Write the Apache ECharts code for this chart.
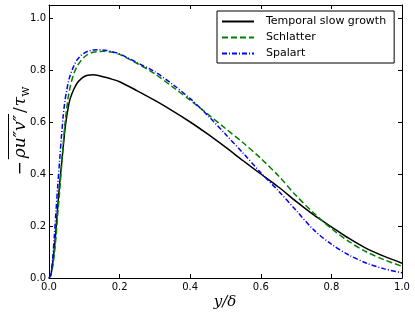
<!DOCTYPE html>
<html>
<head>
<meta charset="utf-8">
<script src="https://cdn.jsdelivr.net/npm/echarts@6/dist/echarts.min.js"></script>
<style>
html,body{margin:0;padding:0;background:#fff;}
#c{width:415px;height:317px;}
</style>
</head>
<body>
<div id="c"></div>
<script>
// ---- data ----
const seriesNames = ['Temporal slow growth', 'Schlatter', 'Spalart'];

const blackX = [0, 0.005, 0.01, 0.015, 0.02, 0.025, 0.03, 0.035, 0.04, 0.045, 0.05, 0.055, 0.06, 0.07, 0.08, 0.09, 0.1, 0.11, 0.125, 0.14, 0.16, 0.18, 0.2, 0.25, 0.3, 0.35, 0.4, 0.45, 0.5, 0.55, 0.6, 0.65, 0.7, 0.75, 0.8, 0.85, 0.9, 0.95, 1.0];
const blackY = [0, 0.01, 0.05, 0.11, 0.19, 0.28, 0.36, 0.43, 0.50, 0.57, 0.62, 0.66, 0.69, 0.725, 0.75, 0.765, 0.775, 0.78, 0.782, 0.779, 0.772, 0.764, 0.755, 0.72, 0.683, 0.643, 0.60, 0.553, 0.503, 0.451, 0.40, 0.35, 0.295, 0.243, 0.197, 0.152, 0.113, 0.083, 0.057];

const greenX = [0, 0.005, 0.01, 0.015, 0.02, 0.025, 0.03, 0.035, 0.04, 0.045, 0.05, 0.055, 0.06, 0.07, 0.08, 0.09, 0.1, 0.11, 0.125, 0.14, 0.155, 0.18, 0.2, 0.25, 0.3, 0.35, 0.4, 0.45, 0.5, 0.55, 0.6, 0.65, 0.7, 0.75, 0.8, 0.85, 0.9, 0.95, 1.0];
const greenY = [0, 0.01, 0.04, 0.09, 0.16, 0.25, 0.33, 0.42, 0.51, 0.59, 0.65, 0.70, 0.735, 0.785, 0.815, 0.835, 0.85, 0.86, 0.868, 0.871, 0.872, 0.868, 0.86, 0.825, 0.785, 0.735, 0.684, 0.63, 0.575, 0.52, 0.46, 0.393, 0.317, 0.25, 0.19, 0.14, 0.10, 0.07, 0.045];

const blueX = [0, 0.005, 0.01, 0.015, 0.02, 0.025, 0.03, 0.035, 0.04, 0.045, 0.05, 0.055, 0.06, 0.07, 0.08, 0.09, 0.1, 0.11, 0.125, 0.14, 0.16, 0.18, 0.2, 0.25, 0.3, 0.35, 0.4, 0.45, 0.5, 0.55, 0.6, 0.65, 0.7, 0.75, 0.8, 0.85, 0.9, 0.95, 1.0];
const blueY = [0, 0.015, 0.07, 0.16, 0.26, 0.36, 0.45, 0.54, 0.62, 0.68, 0.72, 0.755, 0.78, 0.815, 0.84, 0.855, 0.865, 0.872, 0.877, 0.878, 0.876, 0.87, 0.862, 0.828, 0.793, 0.745, 0.69, 0.625, 0.553, 0.48, 0.405, 0.335, 0.26, 0.185, 0.13, 0.088, 0.057, 0.035, 0.02];

const xTicks = [0, 0.2, 0.4, 0.6, 0.8, 1.0];
const yTicks = [0, 0.2, 0.4, 0.6, 0.8, 1.0];

function pairs(xs, ys) { return xs.map((x, i) => [x, ys[i]]); }

// ---- chart ----
const chart = echarts.init(document.getElementById('c'), null, {renderer: 'canvas'});

const tickFont = {fontFamily: 'DejaVu Sans', fontSize: 10, color: '#000'};
const axisLineStyle = {color: '#000', width: 1};

function xAxisDef(pos, showLabel) {
  return {
    type: 'value', position: pos, min: 0, max: 1, interval: 0.2,
    axisLine: {show: true, onZero: false, lineStyle: axisLineStyle},
    axisTick: {show: true, inside: true, length: 4, lineStyle: {color: '#000'}},
    axisLabel: Object.assign({show: showLabel, margin: 4,
      formatter: v => (xTicks.some(t => Math.abs(t - v) < 1e-9) ? v.toFixed(1) : '')}, tickFont),
    splitLine: {show: false}
  };
}
function yAxisDef(pos, showLabel) {
  return {
    type: 'value', position: pos, min: 0, max: 1.05, interval: 0.2,
    axisLine: {show: true, onZero: false, lineStyle: axisLineStyle},
    axisTick: {show: true, inside: true, length: 4, lineStyle: {color: '#000'}},
    axisLabel: Object.assign({show: showLabel, margin: 3, showMaxLabel: false,
      formatter: v => (yTicks.some(t => Math.abs(t - v) < 1e-9) ? v.toFixed(1) : '')}, tickFont),
    splitLine: {show: false}
  };
}

// y-label pieces measured for layout
const mctx = document.createElement('canvas').getContext('2d');
function tw(s, font) { mctx.font = font; return mctx.measureText(s).width; }
const FS = 17;
const fI = 'italic ' + FS + 'px "DejaVu Serif"';
const fR = FS + 'px "DejaVu Serif"';
const fS = '12px "DejaVu Serif"';
const parts = [
  {t: '\u2212', f: fR, fs: 'normal', size: FS, dy: 0},
  {t: '\u03C1u\u2033v\u2033', f: fI, fs: 'italic', size: FS, dy: 0, over: true},
  {t: '/', f: fR, fs: 'normal', size: FS, dy: 0},
  {t: '\u03C4', f: fI, fs: 'italic', size: FS, dy: 0},
  {t: 'w', f: fS, fs: 'normal', size: 12, dy: 5}
];
const gaps = [3, 2, 1, 0, 0];
let total = 0;
parts.forEach((p, i) => { p.w = tw(p.t, p.f); total += p.w + gaps[i]; });
let cx = -total / 2;
const yChildren = [];
parts.forEach((p, i) => {
  yChildren.push({
    type: 'text', x: cx, y: p.dy,
    style: {text: p.t, fontFamily: 'DejaVu Serif', fontStyle: p.fs, fontSize: p.size,
      fill: '#000', align: 'left', verticalAlign: 'middle'}
  });
  if (p.over) {
    yChildren.push({type: 'line', shape: {x1: cx - 1, y1: -12.5, x2: cx + p.w + 1, y2: -12.5},
      style: {stroke: '#000', lineWidth: 1}});
  }
  cx += p.w + gaps[i];
});

const option = {
  animation: false,
  backgroundColor: '#fff',
  grid: {left: 49, right: 13, top: 5, bottom: 39},
  xAxis: [xAxisDef('bottom', true), xAxisDef('top', false)],
  yAxis: [yAxisDef('left', true), yAxisDef('right', false)],
  legend: {
    orient: 'vertical', left: 217, top: 11,
    data: seriesNames,
    backgroundColor: '#fff', borderColor: '#000', borderWidth: 1, borderRadius: 0,
    padding: [5, 8, 4, 4],
    itemWidth: 32, itemHeight: 11, itemGap: 5,
    itemStyle: {opacity: 0},
    textStyle: {fontFamily: 'DejaVu Sans', fontSize: 11, color: '#000', padding: [0, 0, 0, 7], lineHeight: 11}
  },
  graphic: [
    {type: 'text', x: 225, y: 302,
      style: {text: 'y/\u03B4', fontFamily: 'DejaVu Serif', fontStyle: 'italic', fontSize: 15,
        fill: '#000', align: 'center', verticalAlign: 'middle'}},
    {type: 'group', x: 21, y: 131, rotation: Math.PI / 2, children: yChildren}
  ],
  series: [
    {name: seriesNames[0], type: 'line', data: pairs(blackX, blackY), symbol: 'none', smooth: 0.3,
      lineStyle: {color: '#000', width: 1.5, type: 'solid'}, itemStyle: {color: '#000'}},
    {name: seriesNames[1], type: 'line', data: pairs(greenX, greenY), symbol: 'none', smooth: 0.3,
      lineStyle: {color: '#008000', width: 1.5, type: [6, 3]}, itemStyle: {color: '#008000'}},
    {name: seriesNames[2], type: 'line', data: pairs(blueX, blueY), symbol: 'none', smooth: 0.3,
      lineStyle: {color: '#0000ff', width: 1.5, type: [5, 2, 1, 2]}, itemStyle: {color: '#0000ff'}}
  ]
};
chart.setOption(option);
</script>
</body>
</html>
